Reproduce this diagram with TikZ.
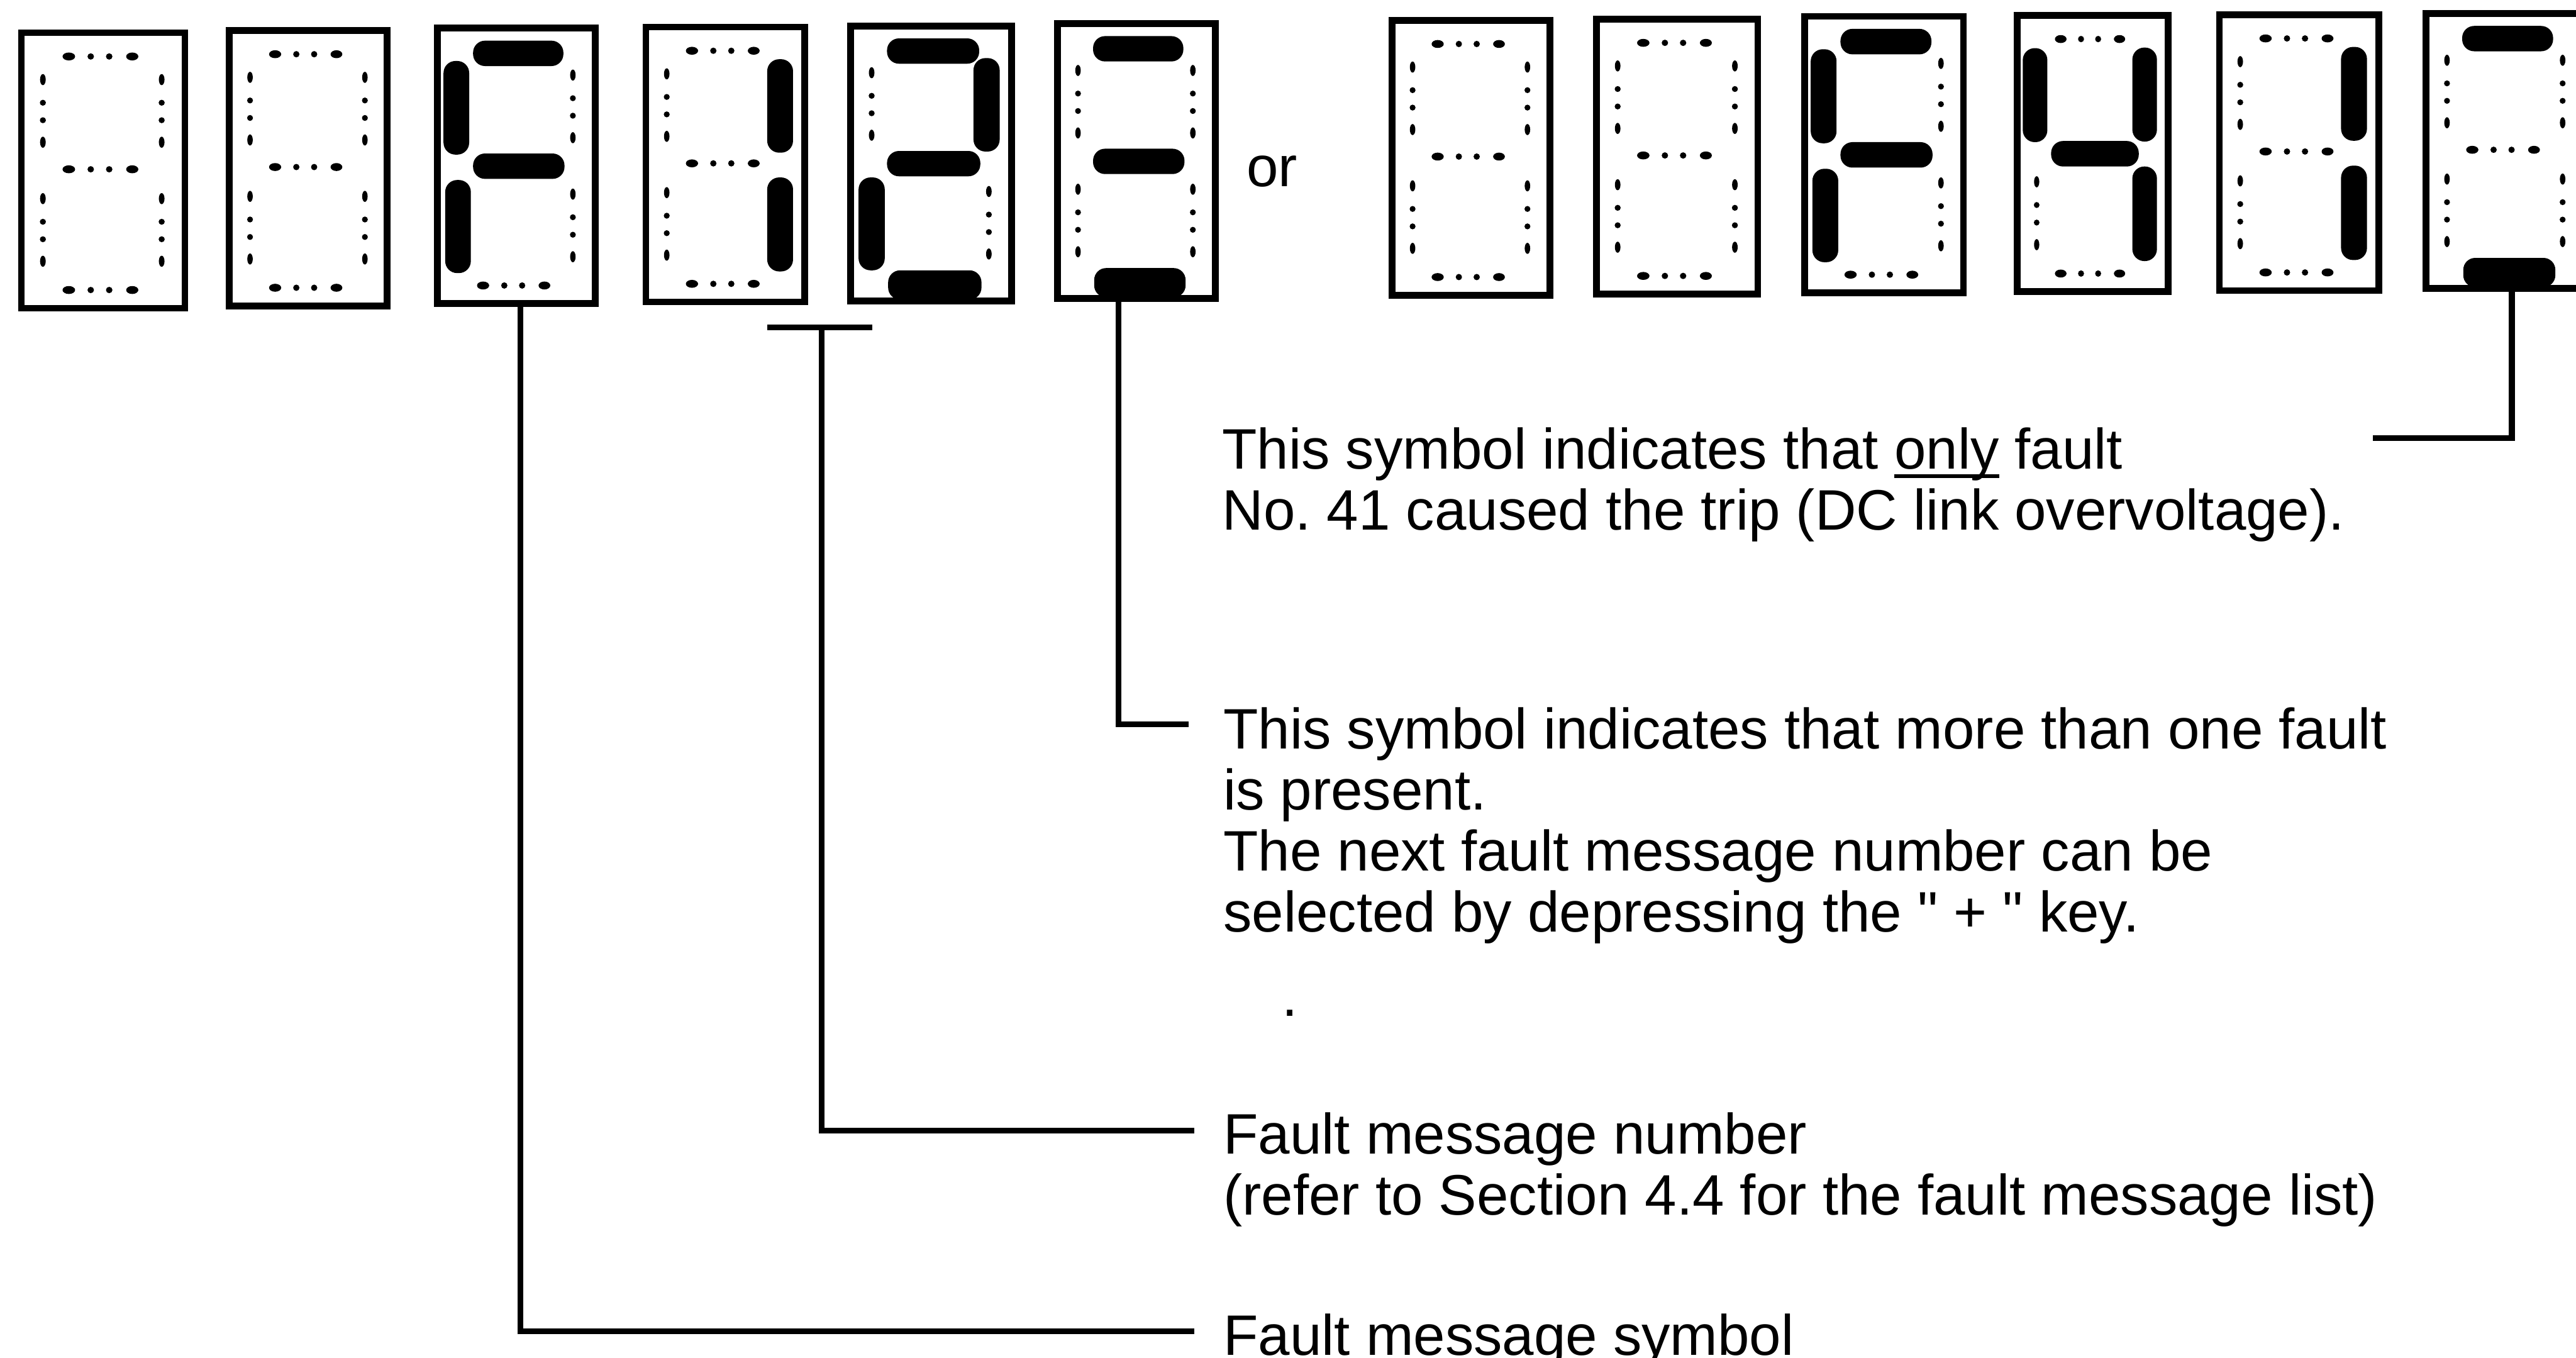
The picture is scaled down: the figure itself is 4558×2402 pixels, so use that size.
\documentclass[tikz,border=0pt]{standalone}
\usepackage{fontspec}
\setmainfont{Liberation Sans}[Ligatures=TeXOff]
\tikzset{
  digitbox/.style={draw, line width=3.4pt, inner sep=0pt, outer sep=0pt},
  seg/.style={fill=black, rounded corners=6pt},
  conn/.style={line width=2.9pt},
  lbl/.style={anchor=base west, align=left, inner sep=0pt,
    font=\fontsize{28.7pt}{30.7pt}\selectfont\frenchspacing},
}
\newcommand\myul[1]{\setbox0=\hbox{#1}\rlap{\rule[-0.15em]{\wd0}{0.06em}}#1}
% dotted (unlit) outlines
\newcommand\hdotrow[1]{%
  \fill (88,#1) ellipse [x radius=3.1pt, y radius=2pt];
  \fill (126,#1) circle [radius=1.6pt];
  \fill (158,#1) circle [radius=1.6pt];
  \fill (198,#1) ellipse [x radius=3pt, y radius=2pt];}
\newcommand\vdotcol[2]{%
  \fill (#1,#2) ellipse [x radius=1.4pt, y radius=2.8pt];
  \fill (#1,#2+41) circle [radius=1.5pt];
  \fill (#1,#2+72) circle [radius=1.5pt];
  \fill (#1,#2+111) ellipse [x radius=1.4pt, y radius=2.8pt];}
\newcommand\segoffa{\hdotrow{48}}
\newcommand\segoffg{\hdotrow{248}}
\newcommand\segoffd{\hdotrow{462}}
\newcommand\segofff{\vdotcol{43}{89}}
\newcommand\segoffe{\vdotcol{43}{300}}
\newcommand\segoffb{\vdotcol{249}{89}}
\newcommand\segoffc{\vdotcol{249}{300}}
% lit segments
\newcommand\segona{\fill[seg] (70,28) rectangle (232,73);}
\newcommand\segong{\fill[seg] (70,228) rectangle (234,273);}
\newcommand\segond{\fill[seg] (72,440) rectangle (236,492);}
\newcommand\segonf{\fill[seg] (17,64) rectangle (63,230);}
\newcommand\segone{\fill[seg] (20,275) rectangle (66,440);}
\newcommand\segonb{\fill[seg] (222,63) rectangle (268,229);}
\newcommand\segonc{\fill[seg] (222,273) rectangle (268,440);}
% name, left, top, right, bottom, lit, unlit
\newcommand\sevenseg[7]{%
  \pgfmathsetmacro\dgw{(#4-#2-12)/100}%
  \pgfmathsetmacro\dgh{(#5-#3-12)/100}%
  \node[digitbox, minimum width=\dgw cm, minimum height=\dgh cm] (#1)
    at ({(#2+#4)/2},{(#3+#5)/2}) {};
  \begin{scope}[shift={(#2,#3)}, xscale={(#4-#2)/295}, yscale={(#5-#3)/500}]
    \foreach \sg in {#6} {\csname segon\sg\endcsname}
    \foreach \sg in {#7} {\csname segoff\sg\endcsname}
  \end{scope}}

\begin{document}
\begin{tikzpicture}[x=0.01cm, y=-0.01cm]
\fill[white] (0,0) rectangle (4558,2402);
\useasboundingbox (0,0) rectangle (4558,2402);

\sevenseg{d1}{32}{52}{333}{551}{}{a,b,c,d,e,f,g}
\sevenseg{d2}{400}{48}{691}{547}{}{a,b,c,d,e,f,g}
\sevenseg{d3}{768}{44}{1059}{543}{a,f,g,e}{b,c,d}
\sevenseg{d4}{1137}{42}{1430}{540}{b,c}{a,d,e,f,g}
\sevenseg{d5}{1499}{40}{1796}{538}{a,b,g,e,d}{f,c}
\sevenseg{d6}{1865}{36}{2156}{534}{a,g,d}{b,c,e,f}
\sevenseg{d7}{2457}{30}{2748}{528}{}{a,b,c,d,e,f,g}
\sevenseg{d8}{2819}{28}{3116}{526}{}{a,b,c,d,e,f,g}
\sevenseg{d9}{3187}{23}{3480}{524}{a,f,g,e}{b,c,d}
\sevenseg{d10}{3563}{21}{3842}{522}{f,b,g,c}{a,d,e}
\sevenseg{d11}{3921}{20}{4215}{520}{b,c}{a,d,e,f,g}
\sevenseg{d12}{4287}{18}{4580}{516}{a,d}{b,c,e,f,g}

\node[lbl] (ortxt) at (2205,330) {or};

% anchors are at the baseline of the last line of each block
\node[lbl] (t1) at (2162,938) {This symbol indicates that \myul{only} fault\\No. 41 caused the trip (DC link overvoltage).};
\node[lbl] (t2) at (2164,1649) {This symbol indicates that more than one fault\\is present.\\The next fault message number can be\\selected by depressing the " + " key.};
\node[lbl] (dotmark) at (2268,1798) {.};
\node[lbl] (t3) at (2164,2149) {Fault message number\\(refer to Section 4.4 for the fault message list)};
\node[lbl] (t4) at (2164,2397) {Fault message symbol};

\coordinate (e1) at (2103,1281);
\coordinate (e2) at (2113,2000);
\coordinate (e3) at (2113,2355);
\coordinate (e4) at (4199,775);
\coordinate (tl) at (1358,579);
\coordinate (tr) at (1543,579);
\coordinate (tm) at (1454,579);

\draw[conn] ([xshift=0.07cm]d3.south) |- (e3);
\draw[conn] (tl) -- (tr);
\draw[conn] (tm) |- (e2);
\draw[conn] ([xshift=-0.31cm]d6.south) |- (e1);
\draw[conn] ([xshift=0.11cm]d12.south) |- (e4);
\end{tikzpicture}
\end{document}
